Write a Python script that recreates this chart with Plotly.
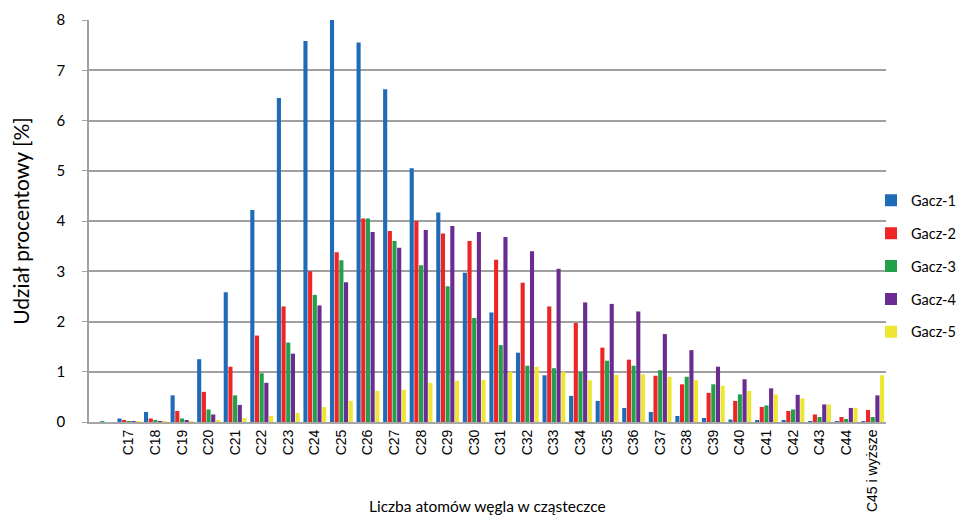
import plotly.graph_objects as go

categories = [" ", "C17", "C18", "C19", "C20", "C21", "C22", "C23", "C24", "C25", "C26",
              "C27", "C28", "C29", "C30", "C31", "C32", "C33", "C34", "C35", "C36",
              "C37", "C38", "C39", "C40", "C41", "C42", "C43", "C44", "C45 i wyższe"]

gacz1 = [0.0, 0.07, 0.2, 0.53, 1.25, 2.58, 4.22, 6.45, 7.58, 8.0, 7.55,
         6.62, 5.05, 4.17, 2.97, 2.18, 1.38, 0.93, 0.52, 0.42, 0.28,
         0.2, 0.12, 0.08, 0.05, 0.03, 0.03, 0.02, 0.02, 0.02]
gacz2 = [0.0, 0.03, 0.07, 0.22, 0.6, 1.1, 1.72, 2.3, 3.0, 3.38, 4.05,
         3.8, 4.0, 3.75, 3.6, 3.23, 2.77, 2.3, 1.97, 1.48, 1.24,
         0.92, 0.75, 0.58, 0.42, 0.3, 0.22, 0.15, 0.1, 0.24]
gacz3 = [0.02, 0.02, 0.03, 0.07, 0.25, 0.53, 0.97, 1.58, 2.53, 3.22, 4.05,
         3.6, 3.12, 2.7, 2.07, 1.53, 1.12, 1.07, 1.0, 1.22, 1.12,
         1.03, 0.9, 0.75, 0.55, 0.33, 0.25, 0.1, 0.06, 0.1]
gacz4 = [0.0, 0.02, 0.02, 0.04, 0.15, 0.34, 0.78, 1.36, 2.32, 2.78, 3.78,
         3.47, 3.82, 3.9, 3.78, 3.68, 3.4, 3.05, 2.38, 2.35, 2.2,
         1.75, 1.43, 1.1, 0.85, 0.67, 0.54, 0.35, 0.28, 0.53]
gacz5 = [0.0, 0.01, 0.01, 0.02, 0.04, 0.08, 0.12, 0.18, 0.3, 0.42, 0.62,
         0.64, 0.78, 0.82, 0.84, 1.0, 1.1, 1.0, 0.83, 0.94, 0.95,
         0.9, 0.83, 0.72, 0.62, 0.55, 0.47, 0.35, 0.28, 0.93]

series_names = ["Gacz-1", "Gacz-2", "Gacz-3", "Gacz-4", "Gacz-5"]
series_values = [gacz1, gacz2, gacz3, gacz4, gacz5]
colors = ["#1F6BB8", "#EE2524", "#22A04B", "#6A2C91", "#EDE734"]

fig = go.Figure()
for name, vals, col in zip(series_names, series_values, colors):
    fig.add_trace(go.Bar(x=categories, y=vals, name=name, legendgroup=name,
                         marker=dict(color=col, line=dict(width=0))))

# page body has an 8px default margin on every side; figure sized to fit the 969x526 window
fig.update_layout(
    width=953, height=510,
    barmode="group", bargap=0.12, bargroupgap=0.12,
    plot_bgcolor="white", paper_bgcolor="white",
    margin=dict(l=81, r=75, t=12, b=96, autoexpand=False),
    font=dict(family="Liberation Sans, Arial", size=14, color="black"),
    legend=dict(xref="container", x=1.0, xanchor="right", y=0.387, yanchor="middle",
                font=dict(family="Lato, Open Sans", size=14.5),
                itemsizing="constant", tracegroupgap=11, itemwidth=30,
                bgcolor="rgba(0,0,0,0)"),
    showlegend=True,
)
fig.update_xaxes(type="category", tickangle=-90, showline=True, linecolor="#A6A6A6",
                 linewidth=2, ticks="", tickfont=dict(size=14), automargin=False)
fig.update_yaxes(range=[0, 8], dtick=1, showgrid=True, gridcolor="#A0A0A0", gridwidth=1.5,
                 showline=True, linecolor="#A0A0A0", linewidth=1.5, ticks="outside",
                 ticklen=5, tickcolor="#A0A0A0", zeroline=False,
                 tickfont=dict(family="Lato, Open Sans", size=15),
                 ticklabelstandoff=14, automargin=False,
                 title=dict(text="Udział procentowy [%]", font=dict(family="Lato, Open Sans", size=21),
                            standoff=25))
fig.add_annotation(text="Liczba atomów węgla w cząsteczce", xref="paper", yref="paper",
                   x=0.5, y=-0.209, yanchor="middle", showarrow=False,
                   font=dict(family="Lato, Open Sans", size=15.5))
fig.write_html("out.html")
